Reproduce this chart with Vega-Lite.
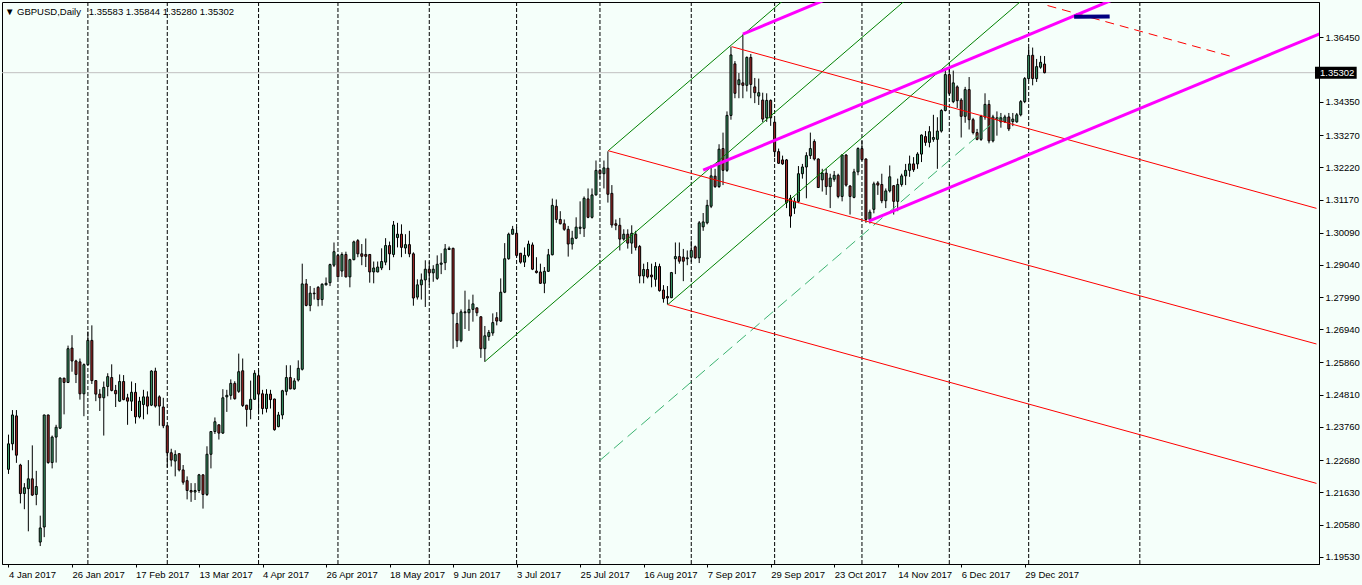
{
"$schema": "https://vega.github.io/schema/vega-lite/v6.json",
"width": 1317, "height": 562,
"autosize": "none",
"padding": {"left": 2, "top": 2, "right": 43, "bottom": 21},
"background": "#F5FFFA",
"config": {"view": {"stroke": "black", "strokeWidth": 1}, "font": "Liberation Sans",
  "axis": {"grid": false, "domainColor": "black", "tickColor": "black", "labelColor": "black", "labelFont": "Liberation Sans", "labelFontSize": 9.5, "labelFlush": false, "labelOverlap": false}},
"title": {"text": "▼ GBPUSD,Daily\u00a0\u00a0 1.35583 1.35844 1.35280 1.35302", "anchor": "start", "frame": "group", "orient": "top", "offset": -23, "dx": 3, "fontSize": 9.5, "fontWeight": "normal", "font": "Liberation Sans", "color": "black", "baseline": "alphabetic"},
"resolve": {"axis": {"x": "independent", "y": "independent"}},
"datasets": {
"seps": [{"i":20},{"i":40},{"i":63},{"i":83},{"i":106},{"i":128},{"i":149},{"i":172},{"i":193},{"i":215},{"i":237},{"i":257},{"i":285}],
"xticks": [{"i":0,"label":"4 Jan 2017"},{"i":16,"label":"26 Jan 2017"},{"i":32,"label":"17 Feb 2017"},{"i":48,"label":"13 Mar 2017"},{"i":64,"label":"4 Apr 2017"},{"i":80,"label":"26 Apr 2017"},{"i":96,"label":"18 May 2017"},{"i":112,"label":"9 Jun 2017"},{"i":128,"label":"3 Jul 2017"},{"i":144,"label":"25 Jul 2017"},{"i":160,"label":"16 Aug 2017"},{"i":176,"label":"7 Sep 2017"},{"i":192,"label":"29 Sep 2017"},{"i":208,"label":"23 Oct 2017"},{"i":224,"label":"14 Nov 2017"},{"i":240,"label":"6 Dec 2017"},{"i":256,"label":"29 Dec 2017"}],
"redFork": [
{"line":"upper","i":182.2,"price":1.3615},{"line":"upper","i":329.5,"price":1.30882},
{"line":"median","i":151.08,"price":1.3276},{"line":"median","i":329.5,"price":1.26463},
{"line":"lower","i":166.08,"price":1.27746},{"line":"lower","i":329.5,"price":1.21922}],
"redDash": [{"line":"warn","i":261.75,"price":1.3749},{"line":"warn","i":308,"price":1.35832}],
"greenFork": [
{"line":"median","i":120.08,"price":1.259},{"line":"median","i":227.4,"price":1.37826},
{"line":"upper","i":151.08,"price":1.3276},{"line":"upper","i":196.7,"price":1.37826},
{"line":"lower","i":166.08,"price":1.27746},{"line":"lower","i":256.8,"price":1.37826}],
"greenDash": [{"line":"warn","i":149.08,"price":1.2268},{"line":"warn","i":250,"price":1.3389}],
"channel": [
{"line":"top","i":185,"price":1.3656},{"line":"top","i":208.5,"price":1.37826},
{"line":"mid","i":175,"price":1.3213},{"line":"mid","i":280.95,"price":1.37826},
{"line":"low","i":216.75,"price":1.30466},{"line":"low","i":331.75,"price":1.36648}],
"navy": [{"line":"mark","i":268.45,"price":1.37122},{"line":"mark","i":277.4,"price":1.37135}],
"ohlc": [
{"i":0,"open":1.2238,"high":1.2351,"low":1.2223,"close":1.2321},
{"i":1,"open":1.2321,"high":1.2431,"low":1.23,"close":1.2415},
{"i":2,"open":1.2412,"high":1.2431,"low":1.2259,"close":1.2284},
{"i":3,"open":1.2252,"high":1.2256,"low":1.2127,"close":1.2159},
{"i":4,"open":1.2159,"high":1.2193,"low":1.2108,"close":1.2178},
{"i":5,"open":1.2175,"high":1.2268,"low":1.2036,"close":1.2207},
{"i":6,"open":1.2207,"high":1.2316,"low":1.2151,"close":1.2154},
{"i":7,"open":1.2156,"high":1.2233,"low":1.2121,"close":1.2182},
{"i":8,"open":1.2001,"high":1.2087,"low":1.1988,"close":1.2047},
{"i":9,"open":1.205,"high":1.2416,"low":1.2017,"close":1.2415},
{"i":10,"open":1.2415,"high":1.2416,"low":1.2256,"close":1.226},
{"i":11,"open":1.226,"high":1.2348,"low":1.2241,"close":1.2343},
{"i":12,"open":1.2343,"high":1.2383,"low":1.226,"close":1.2375},
{"i":13,"open":1.2372,"high":1.2538,"low":1.2369,"close":1.2535},
{"i":14,"open":1.2535,"high":1.2536,"low":1.2417,"close":1.2521},
{"i":15,"open":1.2521,"high":1.2641,"low":1.2519,"close":1.2631},
{"i":16,"open":1.2633,"high":1.2675,"low":1.2556,"close":1.2591},
{"i":17,"open":1.2591,"high":1.2595,"low":1.2519,"close":1.2547},
{"i":18,"open":1.2588,"high":1.2599,"low":1.2465,"close":1.2484},
{"i":19,"open":1.2484,"high":1.2583,"low":1.2411,"close":1.2579},
{"i":20,"open":1.2579,"high":1.2687,"low":1.2577,"close":1.2658},
{"i":21,"open":1.2658,"high":1.2707,"low":1.2516,"close":1.2527},
{"i":22,"open":1.2527,"high":1.2528,"low":1.246,"close":1.2483},
{"i":23,"open":1.2483,"high":1.2499,"low":1.2428,"close":1.2471},
{"i":24,"open":1.2471,"high":1.2524,"low":1.2348,"close":1.2505},
{"i":25,"open":1.2508,"high":1.2551,"low":1.2476,"close":1.254},
{"i":26,"open":1.2537,"high":1.258,"low":1.2492,"close":1.2495},
{"i":27,"open":1.2495,"high":1.2513,"low":1.2441,"close":1.2484},
{"i":28,"open":1.246,"high":1.2547,"low":1.2458,"close":1.2524},
{"i":29,"open":1.2524,"high":1.2545,"low":1.2463,"close":1.2465},
{"i":30,"open":1.2471,"high":1.2484,"low":1.2383,"close":1.246},
{"i":31,"open":1.246,"high":1.2524,"low":1.2428,"close":1.2489},
{"i":32,"open":1.2489,"high":1.2519,"low":1.2387,"close":1.2409},
{"i":33,"open":1.2409,"high":1.2474,"low":1.2404,"close":1.246},
{"i":34,"open":1.2449,"high":1.2497,"low":1.2401,"close":1.2474},
{"i":35,"open":1.2474,"high":1.2492,"low":1.2417,"close":1.2444},
{"i":36,"open":1.2447,"high":1.2561,"low":1.2444,"close":1.2558},
{"i":37,"open":1.2558,"high":1.2569,"low":1.2439,"close":1.2444},
{"i":38,"open":1.2474,"high":1.2479,"low":1.238,"close":1.2444},
{"i":39,"open":1.2441,"high":1.2471,"low":1.2372,"close":1.238},
{"i":40,"open":1.238,"high":1.238,"low":1.2244,"close":1.2292},
{"i":41,"open":1.2292,"high":1.2305,"low":1.2247,"close":1.2268},
{"i":42,"open":1.2265,"high":1.23,"low":1.2215,"close":1.2286},
{"i":43,"open":1.2289,"high":1.2289,"low":1.2231,"close":1.2236},
{"i":44,"open":1.2236,"high":1.2252,"low":1.2188,"close":1.2196},
{"i":45,"open":1.2201,"high":1.2215,"low":1.214,"close":1.2169},
{"i":46,"open":1.2169,"high":1.2193,"low":1.2132,"close":1.2164},
{"i":47,"open":1.2164,"high":1.2193,"low":1.2138,"close":1.2169},
{"i":48,"open":1.2169,"high":1.2223,"low":1.2161,"close":1.222},
{"i":49,"open":1.222,"high":1.2221,"low":1.211,"close":1.2156},
{"i":50,"open":1.2156,"high":1.2313,"low":1.2151,"close":1.2287},
{"i":51,"open":1.2287,"high":1.2362,"low":1.2241,"close":1.2361},
{"i":52,"open":1.2361,"high":1.2407,"low":1.2353,"close":1.2393},
{"i":53,"open":1.2383,"high":1.2384,"low":1.2335,"close":1.2356},
{"i":54,"open":1.2356,"high":1.2499,"low":1.2353,"close":1.2471},
{"i":55,"open":1.2474,"high":1.2497,"low":1.2425,"close":1.2479},
{"i":56,"open":1.2479,"high":1.2531,"low":1.2465,"close":1.2518},
{"i":57,"open":1.2518,"high":1.2525,"low":1.2465,"close":1.2468},
{"i":58,"open":1.2492,"high":1.2615,"low":1.2487,"close":1.2556},
{"i":59,"open":1.2559,"high":1.2599,"low":1.2441,"close":1.2446},
{"i":60,"open":1.2447,"high":1.2448,"low":1.2377,"close":1.2433},
{"i":61,"open":1.2433,"high":1.2527,"low":1.2401,"close":1.2466},
{"i":62,"open":1.2466,"high":1.2561,"low":1.2465,"close":1.2551},
{"i":63,"open":1.2543,"high":1.2561,"low":1.2417,"close":1.2483},
{"i":64,"open":1.2484,"high":1.2497,"low":1.2417,"close":1.2436},
{"i":65,"open":1.2436,"high":1.2499,"low":1.2423,"close":1.2483},
{"i":66,"open":1.2483,"high":1.2497,"low":1.2436,"close":1.2465},
{"i":67,"open":1.2467,"high":1.2468,"low":1.2364,"close":1.2367},
{"i":68,"open":1.2377,"high":1.2425,"low":1.2375,"close":1.2415},
{"i":69,"open":1.2415,"high":1.2497,"low":1.2401,"close":1.2494},
{"i":70,"open":1.2492,"high":1.2577,"low":1.2479,"close":1.2537},
{"i":71,"open":1.2537,"high":1.2577,"low":1.2499,"close":1.25},
{"i":72,"open":1.25,"high":1.2535,"low":1.2497,"close":1.2526},
{"i":73,"open":1.2529,"high":1.2593,"low":1.2524,"close":1.2567},
{"i":74,"open":1.2564,"high":1.2908,"low":1.256,"close":1.2842},
{"i":75,"open":1.2842,"high":1.2858,"low":1.2769,"close":1.2772},
{"i":76,"open":1.2772,"high":1.2835,"low":1.2753,"close":1.2812},
{"i":77,"open":1.2812,"high":1.2829,"low":1.2791,"close":1.281},
{"i":78,"open":1.2831,"high":1.2835,"low":1.2769,"close":1.2791},
{"i":79,"open":1.2791,"high":1.2844,"low":1.2771,"close":1.2841},
{"i":80,"open":1.2839,"high":1.2863,"low":1.2837,"close":1.2844},
{"i":81,"open":1.2846,"high":1.2908,"low":1.2835,"close":1.2905},
{"i":82,"open":1.2903,"high":1.2977,"low":1.2897,"close":1.2947},
{"i":83,"open":1.2935,"high":1.294,"low":1.2863,"close":1.2865},
{"i":84,"open":1.2884,"high":1.2945,"low":1.2865,"close":1.2938},
{"i":85,"open":1.2938,"high":1.2947,"low":1.2863,"close":1.2865},
{"i":86,"open":1.2865,"high":1.2924,"low":1.2831,"close":1.2921},
{"i":87,"open":1.2921,"high":1.2983,"low":1.2919,"close":1.2979},
{"i":88,"open":1.2983,"high":1.2988,"low":1.2929,"close":1.294},
{"i":89,"open":1.294,"high":1.2972,"low":1.2903,"close":1.2932},
{"i":90,"open":1.2938,"high":1.299,"low":1.2897,"close":1.2932},
{"i":91,"open":1.2938,"high":1.2939,"low":1.2846,"close":1.2881},
{"i":92,"open":1.2881,"high":1.2915,"low":1.2844,"close":1.2894},
{"i":93,"open":1.2881,"high":1.2915,"low":1.288,"close":1.2897},
{"i":94,"open":1.2894,"high":1.2958,"low":1.2887,"close":1.2915},
{"i":95,"open":1.2913,"high":1.2991,"low":1.2903,"close":1.2967},
{"i":96,"open":1.2967,"high":1.298,"low":1.2887,"close":1.294},
{"i":97,"open":1.2938,"high":1.3047,"low":1.2929,"close":1.3034},
{"i":98,"open":1.2993,"high":1.3041,"low":1.2961,"close":1.3004},
{"i":99,"open":1.3004,"high":1.3036,"low":1.2929,"close":1.2961},
{"i":100,"open":1.2959,"high":1.3004,"low":1.294,"close":1.297},
{"i":101,"open":1.297,"high":1.3015,"low":1.2929,"close":1.294},
{"i":102,"open":1.294,"high":1.2945,"low":1.2771,"close":1.2796},
{"i":103,"open":1.2799,"high":1.2857,"low":1.2791,"close":1.2839},
{"i":104,"open":1.2839,"high":1.2876,"low":1.2791,"close":1.2855},
{"i":105,"open":1.2855,"high":1.2919,"low":1.2767,"close":1.289},
{"i":106,"open":1.289,"high":1.2915,"low":1.2839,"close":1.2878},
{"i":107,"open":1.2878,"high":1.2903,"low":1.2849,"close":1.289},
{"i":108,"open":1.286,"high":1.2935,"low":1.2855,"close":1.2906},
{"i":109,"open":1.2906,"high":1.2942,"low":1.2874,"close":1.291},
{"i":110,"open":1.2911,"high":1.2972,"low":1.2887,"close":1.2956},
{"i":111,"open":1.2954,"high":1.2964,"low":1.2953,"close":1.2958},
{"i":112,"open":1.2958,"high":1.296,"low":1.2631,"close":1.2745},
{"i":113,"open":1.2713,"high":1.2748,"low":1.2636,"close":1.2657},
{"i":114,"open":1.2657,"high":1.2759,"low":1.2652,"close":1.2751},
{"i":115,"open":1.2748,"high":1.282,"low":1.2695,"close":1.2751},
{"i":116,"open":1.2748,"high":1.2791,"low":1.2689,"close":1.2759},
{"i":117,"open":1.2759,"high":1.2807,"low":1.2719,"close":1.2777},
{"i":118,"open":1.2764,"high":1.2765,"low":1.2737,"close":1.2748},
{"i":119,"open":1.2735,"high":1.2736,"low":1.2601,"close":1.2631},
{"i":120,"open":1.2631,"high":1.2705,"low":1.2588,"close":1.2673},
{"i":121,"open":1.2671,"high":1.2692,"low":1.2657,"close":1.2684},
{"i":122,"open":1.2682,"high":1.2746,"low":1.2673,"close":1.2716},
{"i":123,"open":1.2732,"high":1.275,"low":1.2707,"close":1.2721},
{"i":124,"open":1.2721,"high":1.286,"low":1.2718,"close":1.2815},
{"i":125,"open":1.2815,"high":1.2975,"low":1.2812,"close":1.2924},
{"i":126,"open":1.2924,"high":1.3009,"low":1.2921,"close":1.3004},
{"i":127,"open":1.3004,"high":1.3031,"low":1.3003,"close":1.302},
{"i":128,"open":1.3007,"high":1.3027,"low":1.2931,"close":1.2935},
{"i":129,"open":1.2942,"high":1.2942,"low":1.2908,"close":1.2913},
{"i":130,"open":1.2913,"high":1.2961,"low":1.2897,"close":1.2935},
{"i":131,"open":1.2935,"high":1.2983,"low":1.2929,"close":1.2972},
{"i":132,"open":1.2969,"high":1.2977,"low":1.2887,"close":1.289},
{"i":133,"open":1.2884,"high":1.2929,"low":1.2876,"close":1.2879},
{"i":134,"open":1.2881,"high":1.2908,"low":1.2842,"close":1.2844},
{"i":135,"open":1.2844,"high":1.2897,"low":1.2812,"close":1.2883},
{"i":136,"open":1.2883,"high":1.2956,"low":1.2881,"close":1.2937},
{"i":137,"open":1.2937,"high":1.312,"low":1.2935,"close":1.3098},
{"i":138,"open":1.3095,"high":1.3117,"low":1.3041,"close":1.3052},
{"i":139,"open":1.3052,"high":1.3079,"low":1.3036,"close":1.3038},
{"i":140,"open":1.3038,"high":1.3052,"low":1.3015,"close":1.302},
{"i":141,"open":1.302,"high":1.3031,"low":1.2931,"close":1.2972},
{"i":142,"open":1.2972,"high":1.3015,"low":1.2954,"close":1.2991},
{"i":143,"open":1.2991,"high":1.3059,"low":1.2988,"close":1.3027},
{"i":144,"open":1.3023,"high":1.3111,"low":1.3004,"close":1.3027},
{"i":145,"open":1.3023,"high":1.3127,"low":1.2995,"close":1.3121},
{"i":146,"open":1.3119,"high":1.3153,"low":1.3056,"close":1.3059},
{"i":147,"open":1.3059,"high":1.3153,"low":1.3055,"close":1.3132},
{"i":148,"open":1.3132,"high":1.3244,"low":1.313,"close":1.3212},
{"i":149,"open":1.3212,"high":1.3217,"low":1.3185,"close":1.3201},
{"i":150,"open":1.3201,"high":1.3244,"low":1.3153,"close":1.322},
{"i":151,"open":1.3219,"high":1.3274,"low":1.3107,"close":1.3134},
{"i":152,"open":1.3137,"high":1.3164,"low":1.3025,"close":1.3034},
{"i":153,"open":1.3038,"high":1.3052,"low":1.3017,"close":1.3033},
{"i":154,"open":1.3033,"high":1.3057,"low":1.2951,"close":1.2988},
{"i":155,"open":1.2988,"high":1.302,"low":1.2983,"close":1.3004},
{"i":156,"open":1.3004,"high":1.302,"low":1.2957,"close":1.2975},
{"i":157,"open":1.2975,"high":1.3033,"low":1.294,"close":1.3007},
{"i":158,"open":1.3004,"high":1.3015,"low":1.2951,"close":1.2961},
{"i":159,"open":1.2964,"high":1.2969,"low":1.2844,"close":1.2868},
{"i":160,"open":1.2868,"high":1.2908,"low":1.2844,"close":1.2889},
{"i":161,"open":1.2889,"high":1.2913,"low":1.286,"close":1.2865},
{"i":162,"open":1.2871,"high":1.2908,"low":1.2831,"close":1.2865},
{"i":163,"open":1.2857,"high":1.2913,"low":1.2833,"close":1.2899},
{"i":164,"open":1.2899,"high":1.2908,"low":1.2817,"close":1.282},
{"i":165,"open":1.2822,"high":1.2838,"low":1.2781,"close":1.2794},
{"i":166,"open":1.2801,"high":1.2835,"low":1.2775,"close":1.2796},
{"i":167,"open":1.2797,"high":1.2881,"low":1.2796,"close":1.2879},
{"i":168,"open":1.2924,"high":1.2977,"low":1.2874,"close":1.2931},
{"i":169,"open":1.2931,"high":1.2977,"low":1.2908,"close":1.2916},
{"i":170,"open":1.2929,"high":1.2956,"low":1.2851,"close":1.2916},
{"i":171,"open":1.2924,"high":1.2951,"low":1.2903,"close":1.2927},
{"i":172,"open":1.2929,"high":1.2983,"low":1.2913,"close":1.2951},
{"i":173,"open":1.2963,"high":1.2967,"low":1.2924,"close":1.2927},
{"i":174,"open":1.2927,"high":1.3047,"low":1.291,"close":1.3041},
{"i":175,"open":1.3028,"high":1.3073,"low":1.3015,"close":1.3044},
{"i":176,"open":1.3041,"high":1.3116,"low":1.3036,"close":1.3098},
{"i":177,"open":1.3095,"high":1.3228,"low":1.3089,"close":1.3194},
{"i":178,"open":1.3193,"high":1.3217,"low":1.3155,"close":1.3159},
{"i":179,"open":1.3159,"high":1.3297,"low":1.3155,"close":1.3281},
{"i":180,"open":1.3283,"high":1.3335,"low":1.3164,"close":1.3212},
{"i":181,"open":1.3212,"high":1.3404,"low":1.3207,"close":1.3391},
{"i":182,"open":1.3391,"high":1.3615,"low":1.3377,"close":1.3588},
{"i":183,"open":1.3559,"high":1.3568,"low":1.3447,"close":1.3463},
{"i":184,"open":1.3491,"high":1.3529,"low":1.3447,"close":1.3507},
{"i":185,"open":1.3497,"high":1.3655,"low":1.3447,"close":1.3489},
{"i":186,"open":1.3489,"high":1.3583,"low":1.3469,"close":1.358},
{"i":187,"open":1.358,"high":1.3591,"low":1.3447,"close":1.3492},
{"i":188,"open":1.3484,"high":1.3513,"low":1.3431,"close":1.3465},
{"i":189,"open":1.3454,"high":1.3511,"low":1.3425,"close":1.3465},
{"i":190,"open":1.3441,"high":1.3465,"low":1.3369,"close":1.3379},
{"i":191,"open":1.3383,"high":1.3463,"low":1.337,"close":1.344},
{"i":192,"open":1.344,"high":1.3443,"low":1.3357,"close":1.3383},
{"i":193,"open":1.3369,"high":1.3377,"low":1.3255,"close":1.3273},
{"i":194,"open":1.3273,"high":1.3283,"low":1.3233,"close":1.3235},
{"i":195,"open":1.3246,"high":1.326,"low":1.323,"close":1.3233},
{"i":196,"open":1.3246,"high":1.3249,"low":1.3089,"close":1.3107},
{"i":197,"open":1.3121,"high":1.3132,"low":1.3025,"close":1.3063},
{"i":198,"open":1.3089,"high":1.3123,"low":1.307,"close":1.3111},
{"i":199,"open":1.3111,"high":1.3226,"low":1.3105,"close":1.3201},
{"i":200,"open":1.3201,"high":1.3233,"low":1.3185,"close":1.3223},
{"i":201,"open":1.3223,"high":1.3271,"low":1.3121,"close":1.326},
{"i":202,"open":1.326,"high":1.3335,"low":1.3249,"close":1.3283},
{"i":203,"open":1.3306,"high":1.3313,"low":1.3244,"close":1.3249},
{"i":204,"open":1.3249,"high":1.3251,"low":1.3155,"close":1.3156},
{"i":205,"open":1.3181,"high":1.3217,"low":1.3143,"close":1.3203},
{"i":206,"open":1.3203,"high":1.3217,"low":1.3132,"close":1.3159},
{"i":207,"open":1.3159,"high":1.3201,"low":1.3089,"close":1.3187},
{"i":208,"open":1.3183,"high":1.321,"low":1.3175,"close":1.3196},
{"i":209,"open":1.3196,"high":1.3201,"low":1.3121,"close":1.3127},
{"i":210,"open":1.3127,"high":1.3265,"low":1.3111,"close":1.3262},
{"i":211,"open":1.3262,"high":1.3265,"low":1.3159,"close":1.3164},
{"i":212,"open":1.3161,"high":1.3164,"low":1.3068,"close":1.3127},
{"i":213,"open":1.3124,"high":1.3217,"low":1.3121,"close":1.3207},
{"i":214,"open":1.3207,"high":1.3287,"low":1.3196,"close":1.3283},
{"i":215,"open":1.3283,"high":1.3308,"low":1.3244,"close":1.3247},
{"i":216,"open":1.3249,"high":1.3251,"low":1.3041,"close":1.3052},
{"i":217,"open":1.3052,"high":1.3084,"low":1.3039,"close":1.3076},
{"i":218,"open":1.3085,"high":1.3175,"low":1.3072,"close":1.3168},
{"i":219,"open":1.3171,"high":1.3177,"low":1.3132,"close":1.3164},
{"i":220,"open":1.3166,"high":1.3201,"low":1.3105,"close":1.3113},
{"i":221,"open":1.3113,"high":1.3153,"low":1.3089,"close":1.3145},
{"i":222,"open":1.3145,"high":1.3228,"low":1.314,"close":1.3191},
{"i":223,"open":1.3162,"high":1.3164,"low":1.3068,"close":1.3111},
{"i":224,"open":1.3111,"high":1.3185,"low":1.3079,"close":1.3166},
{"i":225,"open":1.3166,"high":1.3201,"low":1.3159,"close":1.3194},
{"i":226,"open":1.3194,"high":1.3233,"low":1.3164,"close":1.3212},
{"i":227,"open":1.3212,"high":1.326,"low":1.3191,"close":1.3233},
{"i":228,"open":1.3233,"high":1.3255,"low":1.3207,"close":1.3214},
{"i":229,"open":1.3233,"high":1.3271,"low":1.3217,"close":1.3265},
{"i":230,"open":1.3265,"high":1.3329,"low":1.3239,"close":1.3327},
{"i":231,"open":1.3322,"high":1.334,"low":1.3292,"close":1.3303},
{"i":232,"open":1.3303,"high":1.3356,"low":1.3287,"close":1.3338},
{"i":233,"open":1.3313,"high":1.3393,"low":1.3305,"close":1.3319},
{"i":234,"open":1.3313,"high":1.3385,"low":1.3217,"close":1.334},
{"i":235,"open":1.334,"high":1.3411,"low":1.3335,"close":1.3407},
{"i":236,"open":1.3407,"high":1.3539,"low":1.3404,"close":1.3524},
{"i":237,"open":1.3524,"high":1.3543,"low":1.3457,"close":1.3463},
{"i":238,"open":1.3436,"high":1.3537,"low":1.3431,"close":1.3497},
{"i":239,"open":1.3484,"high":1.3489,"low":1.3415,"close":1.3439},
{"i":240,"open":1.3441,"high":1.3447,"low":1.3319,"close":1.3388},
{"i":241,"open":1.3388,"high":1.3484,"low":1.3367,"close":1.3475},
{"i":242,"open":1.3475,"high":1.3516,"low":1.3345,"close":1.3377},
{"i":243,"open":1.3377,"high":1.3383,"low":1.3329,"close":1.3335},
{"i":244,"open":1.3335,"high":1.3347,"low":1.331,"close":1.3313},
{"i":245,"open":1.3313,"high":1.3393,"low":1.3308,"close":1.3388},
{"i":246,"open":1.3386,"high":1.3463,"low":1.3377,"close":1.3427},
{"i":247,"open":1.3427,"high":1.3441,"low":1.33,"close":1.3308},
{"i":248,"open":1.3308,"high":1.3393,"low":1.3303,"close":1.3386},
{"i":249,"open":1.3383,"high":1.3404,"low":1.3325,"close":1.3377},
{"i":250,"open":1.337,"high":1.3399,"low":1.3351,"close":1.3383},
{"i":251,"open":1.337,"high":1.3393,"low":1.3367,"close":1.3386},
{"i":252,"open":1.3386,"high":1.3399,"low":1.334,"close":1.3347},
{"i":253,"open":1.3371,"high":1.3399,"low":1.3356,"close":1.3379},
{"i":254,"open":1.337,"high":1.3399,"low":1.3367,"close":1.3393},
{"i":255,"open":1.3393,"high":1.3441,"low":1.3388,"close":1.3436},
{"i":256,"open":1.3436,"high":1.3516,"low":1.3431,"close":1.3511},
{"i":257,"open":1.3511,"high":1.3612,"low":1.3505,"close":1.3587},
{"i":258,"open":1.3587,"high":1.3612,"low":1.3489,"close":1.3511},
{"i":259,"open":1.3511,"high":1.3575,"low":1.35,"close":1.355},
{"i":260,"open":1.3548,"high":1.3585,"low":1.3543,"close":1.3564},
{"i":261,"open":1.35583,"high":1.35844,"low":1.3528,"close":1.35302}
]
},
"layer": [
{"data": {"name": "seps"},
 "mark": {"type": "rule", "color": "black", "strokeWidth": 1, "strokeDash": [4, 2]},
 "encoding": {"x": {"field": "i", "type": "quantitative", "scale": {"domain": [-0.375, 328.875], "nice": false, "zero": false},
   "axis": {"orient": "bottom", "values": [0,16,32,48,64,80,96,112,128,144,160,176,192,208,224,240,256], "labelExpr": "['4 Jan 2017','26 Jan 2017','17 Feb 2017','13 Mar 2017','4 Apr 2017','26 Apr 2017','18 May 2017','9 Jun 2017','3 Jul 2017','25 Jul 2017','16 Aug 2017','7 Sep 2017','29 Sep 2017','23 Oct 2017','14 Nov 2017','6 Dec 2017','29 Dec 2017'][round(datum.value/16)]", "title": null, "tickSize": 3, "labelAlign": "left", "labelBaseline": "top", "labelPadding": 2, "grid": false, "ticks": true, "labels": true, "domain": true}}}},
{"data": {"name": "ohlc"}, "transform": [{"filter": "datum.i == 261"}],
 "mark": {"type": "rule", "color": "#C0C0C0", "strokeWidth": 1},
 "encoding": {"y": {"field": "close", "type": "quantitative", "scale": {"domain": [1.19458, 1.37442], "nice": false, "zero": false},
   "axis": {"orient": "right", "values": [1.1953,1.2058,1.2163,1.2268,1.2376,1.2481,1.2586,1.2694,1.2799,1.2904,1.3009,1.3117,1.3222,1.3327,1.3435,1.3645], "format": ".5f", "title": null, "tickSize": 4, "labelPadding": 2, "labelBaseline": "middle", "grid": false, "ticks": true, "labels": true, "domain": true}}}},
{"data": {"name": "ohlc"},
 "mark": {"type": "rule", "color": "black", "strokeWidth": 1},
 "encoding": {
  "x": {"field": "i", "type": "quantitative", "scale": {"domain": [-0.375, 328.875], "nice": false, "zero": false}, "axis": null},
  "y": {"field": "low", "type": "quantitative", "scale": {"domain": [1.19458, 1.37442], "nice": false, "zero": false}, "axis": null},
  "y2": {"field": "high"}}},
{"data": {"name": "ohlc"},
 "mark": {"type": "bar", "width": 2, "stroke": "black", "strokeWidth": 1},
 "encoding": {
  "x": {"field": "i", "type": "quantitative", "scale": {"domain": [-0.375, 328.875], "nice": false, "zero": false}, "axis": null},
  "y": {"field": "open", "type": "quantitative", "scale": {"domain": [1.19458, 1.37442], "nice": false, "zero": false}, "axis": null},
  "y2": {"field": "close"},
  "fill": {"condition": {"test": "datum.close >= datum.open", "value": "#3A9A68"}, "value": "#A52A2A"}}},
{"data": {"name": "greenDash"},
 "mark": {"type": "line", "color": "#3CB371", "strokeWidth": 1, "strokeDash": [12, 6], "clip": true},
 "encoding": {
  "x": {"field": "i", "type": "quantitative", "scale": {"domain": [-0.375, 328.875], "nice": false, "zero": false}, "axis": null},
  "y": {"field": "price", "type": "quantitative", "scale": {"domain": [1.19458, 1.37442], "nice": false, "zero": false}, "axis": null},
  "detail": {"field": "line"}}},
{"data": {"name": "greenFork"},
 "mark": {"type": "line", "color": "#008000", "strokeWidth": 1, "clip": true},
 "encoding": {
  "x": {"field": "i", "type": "quantitative", "scale": {"domain": [-0.375, 328.875], "nice": false, "zero": false}, "axis": null},
  "y": {"field": "price", "type": "quantitative", "scale": {"domain": [1.19458, 1.37442], "nice": false, "zero": false}, "axis": null},
  "detail": {"field": "line"}}},
{"data": {"name": "redFork"},
 "mark": {"type": "line", "color": "#FF0000", "strokeWidth": 1, "clip": true},
 "encoding": {
  "x": {"field": "i", "type": "quantitative", "scale": {"domain": [-0.375, 328.875], "nice": false, "zero": false}, "axis": null},
  "y": {"field": "price", "type": "quantitative", "scale": {"domain": [1.19458, 1.37442], "nice": false, "zero": false}, "axis": null},
  "detail": {"field": "line"}}},
{"data": {"name": "redDash"},
 "mark": {"type": "line", "color": "#FF0000", "strokeWidth": 1, "strokeDash": [9, 6], "clip": true},
 "encoding": {
  "x": {"field": "i", "type": "quantitative", "scale": {"domain": [-0.375, 328.875], "nice": false, "zero": false}, "axis": null},
  "y": {"field": "price", "type": "quantitative", "scale": {"domain": [1.19458, 1.37442], "nice": false, "zero": false}, "axis": null},
  "detail": {"field": "line"}}},
{"data": {"name": "channel"},
 "mark": {"type": "line", "color": "#FF00FF", "strokeWidth": 3, "clip": true},
 "encoding": {
  "x": {"field": "i", "type": "quantitative", "scale": {"domain": [-0.375, 328.875], "nice": false, "zero": false}, "axis": null},
  "y": {"field": "price", "type": "quantitative", "scale": {"domain": [1.19458, 1.37442], "nice": false, "zero": false}, "axis": null},
  "detail": {"field": "line"}}},
{"data": {"name": "navy"},
 "mark": {"type": "line", "color": "#000080", "strokeWidth": 4, "clip": true},
 "encoding": {
  "x": {"field": "i", "type": "quantitative", "scale": {"domain": [-0.375, 328.875], "nice": false, "zero": false}, "axis": null},
  "y": {"field": "price", "type": "quantitative", "scale": {"domain": [1.19458, 1.37442], "nice": false, "zero": false}, "axis": null},
  "detail": {"field": "line"}}},
{"data": {"name": "ohlc"}, "transform": [{"filter": "datum.i == 261"}],
 "mark": {"type": "bar", "color": "black", "height": 12},
 "encoding": {
  "x": {"datum": 329.125, "type": "quantitative", "scale": {"domain": [-0.375, 328.875], "nice": false, "zero": false}, "axis": null},
  "x2": {"datum": 339.625},
  "y": {"field": "close", "type": "quantitative", "scale": {"domain": [1.19458, 1.37442], "nice": false, "zero": false}, "axis": null}}},
{"data": {"name": "ohlc"}, "transform": [{"filter": "datum.i == 261"}],
 "mark": {"type": "text", "align": "left", "baseline": "middle", "color": "white", "font": "Liberation Sans", "fontSize": 9.5},
 "encoding": {
  "x": {"datum": 330.375, "type": "quantitative", "scale": {"domain": [-0.375, 328.875], "nice": false, "zero": false}, "axis": null},
  "y": {"field": "close", "type": "quantitative", "scale": {"domain": [1.19458, 1.37442], "nice": false, "zero": false}, "axis": null},
  "text": {"field": "close", "type": "quantitative", "format": ".5f"}}}
]
}
